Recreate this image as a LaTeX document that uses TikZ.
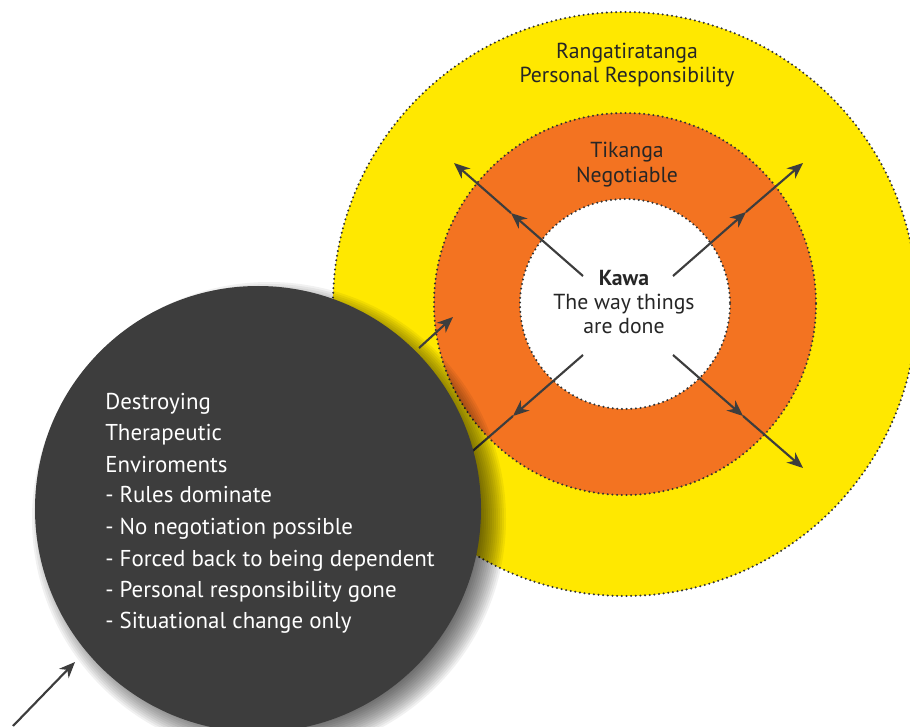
\documentclass[tikz,border=0pt]{standalone}
\usepackage{fontspec}
\setmainfont{PT Sans}
\usetikzlibrary{arrows.meta}
\definecolor{ylw}{HTML}{FFE800}
\definecolor{org}{HTML}{F37321}
\definecolor{drk}{HTML}{3D3D3D}
\definecolor{dotc}{HTML}{333333}
\definecolor{txt}{HTML}{262626}
\begin{document}
\begin{tikzpicture}[x=0.75pt,y=-0.75pt,
  ring/.style={draw=dotc, line width=1.7pt, dash pattern=on 0pt off 3.5pt, line cap=round},
  ptr/.style={draw=drk, line width=1.6pt, -{Stealth[length=12pt,width=10pt,inset=3.8pt]}},
  lbl/.style={text=txt, anchor=base, inner sep=0pt, font=\fontsize{16.3}{19}\selectfont},
  kawa/.style={lbl, font=\fontsize{16.3}{19}\selectfont\bfseries},
  dtxt/.style={text=white, anchor=base west, inner sep=0pt, font=\fontsize{17.2}{20}\selectfont}]
\path[use as bounding box] (0,0) rectangle (910,727);
\clip (0,0) rectangle (910,727);
% rings
\filldraw[fill=ylw, ring] (625,304) circle (292);
\filldraw[fill=org, ring] (625,304) circle (191);
\filldraw[fill=white, ring] (625,304) circle (105);
% arrow points
\coordinate (ult) at (583,276); \coordinate (ulm) at (511,213); \coordinate (ule) at (454,163);
\coordinate (urt) at (673,276); \coordinate (urm) at (746,212); \coordinate (ure) at (803,163);
\coordinate (llt) at (583,355); \coordinate (llm) at (513,416); \coordinate (lle) at (453,468);
\coordinate (lrt) at (673,355); \coordinate (lrm) at (743,416); \coordinate (lre) at (803,468);
\draw[ptr] (ult) -- (ulm); \draw[ptr] (ulm) -- (ule);
\draw[ptr] (urt) -- (urm); \draw[ptr] (urm) -- (ure);
\draw[ptr] (llt) -- (llm); \draw[ptr] (llm) -- (lle);
\draw[ptr] (lrt) -- (lrm); \draw[ptr] (lrm) -- (lre);
% shadow of dark circle
\foreach \i in {0,...,14}{
  \fill[black, opacity=0.055] (269,519) circle ({237-2*\i});
}
\fill[drk] (258,509) circle (223);
% small arrows
\coordinate (sat) at (419,348); \coordinate (sah) at (453,317);
\coordinate (sbt) at (13,726); \coordinate (sbh) at (75,662);
\draw[ptr] (sat) -- (sah);
\draw[ptr] (sbt) -- (sbh);
% labels
\node[lbl] (r1) at (627,59) {Rangatiratanga};
\node[lbl] (r2) at (627,83) {Personal Responsibility};
\node[lbl] (t1) at (627,158) {Tikanga};
\node[lbl] (t2) at (627,183) {Negotiable};
\node[kawa] (k1) at (624,286) {Kawa};
\node[lbl] (k2) at (624,310) {The way things};
\node[lbl] (k3) at (624,334) {are done};
% dark circle text
\node[dtxt] (d1) at (105,409) {Destroying};
\node[dtxt] (d2) at (105,440) {Therapeutic};
\node[dtxt] (d3) at (105,472) {Enviroments};
\node[dtxt] (d4) at (105,502) {- Rules dominate};
\node[dtxt] (d5) at (105,534) {- No negotiation possible};
\node[dtxt] (d6) at (105,566) {- Forced back to being dependent};
\node[dtxt] (d7) at (105,597) {- Personal responsibility gone};
\node[dtxt] (d8) at (105,628) {- Situational change only};
\end{tikzpicture}
\end{document}
